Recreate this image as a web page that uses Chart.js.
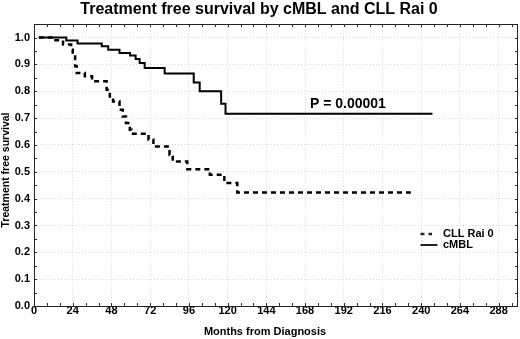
<!DOCTYPE html>
<html>
<head>
<meta charset="utf-8">
<script src="https://cdn.jsdelivr.net/npm/chart.js@4/dist/chart.umd.min.js"></script>
<style>
  html, body { margin: 0; padding: 0; background: #fff; }
  #wrap { width: 520px; height: 339px; }
</style>
</head>
<body>
<div id="wrap"><canvas id="km"></canvas></div>
<script>
// Kaplan-Meier steps (month of event, survival after event)
const cmblMonths   = [3, 20, 27, 42, 46, 53, 59.5, 63, 65.5, 68.6, 81, 99, 102.7, 116, 118.7, 247];
const cmblSurvival = [1.0, 0.989, 0.978, 0.968, 0.955, 0.943, 0.933, 0.92, 0.905, 0.887, 0.866, 0.833, 0.80, 0.754, 0.716, 0.716];

const cllMonths   = [3, 11, 18, 23, 24, 25.5, 26.5, 31.5, 36, 45, 47, 49, 53, 55, 57, 59.4, 60.5, 71, 74, 84, 86, 95, 109, 118, 126, 233.6];
const cllSurvival = [1.0, 0.99, 0.974, 0.955, 0.93, 0.893, 0.868, 0.856, 0.837, 0.806, 0.781, 0.762, 0.731, 0.706, 0.682, 0.657, 0.642, 0.619, 0.594, 0.563, 0.538, 0.51, 0.489, 0.458, 0.423, 0.423];

const xTicks = [0, 24, 48, 72, 96, 120, 144, 168, 192, 216, 240, 264, 288];
const yTicks = [0, 0.1, 0.2, 0.3, 0.4, 0.5, 0.6, 0.7, 0.8, 0.9, 1.0];

const seriesNames = ['CLL Rai 0', 'cMBL'];
const pValueText = 'P = 0.00001';

const FONT = '"Liberation Sans", Arial, sans-serif';

function toPoints(xs, ys) {
    return xs.map((x, i) => ({ x: x, y: ys[i] }));
}

// frame, minor ticks, axis titles, legend and P value
const decorations = {
    id: 'decorations',
    afterDraw(chart) {
        const ctx = chart.ctx;
        const a = chart.chartArea;
        const xs = chart.scales.x;
        const ys = chart.scales.y;
        ctx.save();

        // minor ticks, pointing inward
        ctx.strokeStyle = '#333';
        ctx.lineWidth = 1;
        ctx.beginPath();
        for (let m = 0; m <= 300; m += 8) {
            const px = Math.round(xs.getPixelForValue(m)) + 0.5;
            ctx.moveTo(px, a.bottom); ctx.lineTo(px, a.bottom - 3);
            ctx.moveTo(px, a.top); ctx.lineTo(px, a.top + 3);
        }
        for (let v = 0; v <= 1.05; v += 0.05) {
            const py = Math.round(ys.getPixelForValue(v)) + 0.5;
            ctx.moveTo(a.left, py); ctx.lineTo(a.left + 3, py);
            ctx.moveTo(a.right, py); ctx.lineTo(a.right - 3, py);
        }
        ctx.stroke();

        // frame
        ctx.strokeStyle = '#222';
        ctx.strokeRect(Math.round(a.left) + 0.5, Math.round(a.top) + 0.5,
                       Math.round(a.right - a.left) - 1, Math.round(a.bottom - a.top));

        ctx.fillStyle = '#000';
        // x title
        ctx.font = 'bold 11px ' + FONT;
        ctx.textAlign = 'center';
        ctx.textBaseline = 'middle';
        ctx.fillText('Months from Diagnosis', 265, 332);

        // y title
        ctx.save();
        ctx.translate(6, 170);
        ctx.rotate(-Math.PI / 2);
        ctx.font = 'bold 10.5px ' + FONT;
        ctx.fillText('Treatment free survival', 0, 0);
        ctx.restore();

        // P value
        ctx.font = 'bold 14px ' + FONT;
        ctx.textAlign = 'left';
        ctx.fillText(pValueText, 310, 104);

        // legend
        ctx.lineWidth = 2.5;
        ctx.setLineDash([4, 4]);
        ctx.beginPath();
        ctx.moveTo(420.5, 234); ctx.lineTo(432, 234);
        ctx.stroke();
        ctx.setLineDash([]);
        ctx.lineWidth = 2;
        ctx.beginPath();
        ctx.moveTo(420.5, 245); ctx.lineTo(437.5, 245);
        ctx.stroke();
        ctx.font = 'bold 11px ' + FONT;
        ctx.fillText(seriesNames[0], 443, 234);
        ctx.fillText(seriesNames[1], 443, 245);

        ctx.restore();
    }
};

new Chart(document.getElementById('km'), {
    type: 'line',
    data: {
        datasets: [
            {
                label: seriesNames[0],
                data: toPoints(cllMonths, cllSurvival),
                borderColor: '#000',
                borderWidth: 2.5,
                borderDash: [5, 4],
                stepped: 'before',
                pointRadius: 0,
                fill: false
            },
            {
                label: seriesNames[1],
                data: toPoints(cmblMonths, cmblSurvival),
                borderColor: '#000',
                borderWidth: 2,
                stepped: 'before',
                pointRadius: 0,
                fill: false
            }
        ]
    },
    options: {
        responsive: true,
        maintainAspectRatio: false,
        animation: false,
        layout: {
            padding: { top: 0, right: 2, bottom: 0, left: 0 }
        },
        plugins: {
            legend: { display: false },
            tooltip: { enabled: false },
            title: {
                display: true,
                text: 'Treatment free survival by cMBL and CLL Rai 0',
                color: '#000',
                font: { family: FONT, size: 16, weight: 'bold' },
                padding: { top: 0, bottom: 5 }
            }
        },
        scales: {
            x: {
                type: 'linear',
                min: 0,
                max: 300,
                afterFit: function(scale) { scale.height = 33; },
                afterBuildTicks: function(scale) {
                    scale.ticks = xTicks.map(v => ({ value: v }));
                },
                ticks: {
                    color: '#000',
                    padding: -2,
                    maxRotation: 0,
                    autoSkip: false,
                    font: { family: FONT, size: 11, weight: 'bold' }
                },
                grid: {
                    color: '#d8d8d8',
                    drawTicks: false
                },
                border: { display: false, dash: [1, 2] }
            },
            y: {
                min: 0,
                max: 1.05,
                afterFit: function(scale) { scale.width = 34; },
                afterBuildTicks: function(scale) {
                    scale.ticks = yTicks.map(v => ({ value: v }));
                },
                ticks: {
                    color: '#000',
                    padding: 4,
                    font: { family: FONT, size: 11, weight: 'bold' },
                    callback: function(value) {
                        return value.toFixed(1);
                    }
                },
                grid: {
                    color: '#d8d8d8',
                    drawTicks: false
                },
                border: { display: false, dash: [1, 2] }
            }
        }
    },
    plugins: [decorations]
});
</script>
</body>
</html>
